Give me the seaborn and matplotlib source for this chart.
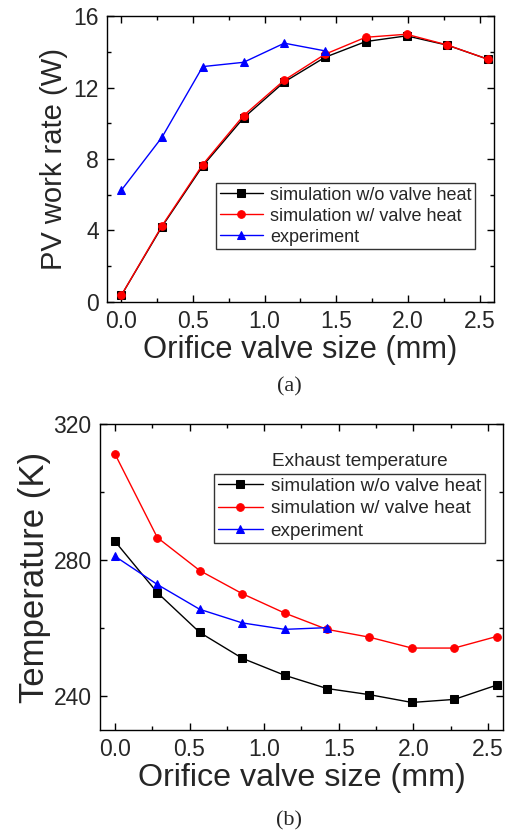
import matplotlib
matplotlib.use("Agg")
import matplotlib.pyplot as plt
import seaborn as sns
import pandas as pd
from matplotlib.ticker import MultipleLocator

sns.set_theme(style="ticks")
plt.rcParams['font.family'] = ['Liberation Sans', 'DejaVu Sans']

# Data
orifice = [0.0, 0.284, 0.568, 0.853, 1.137, 1.421, 1.705, 1.990, 2.274, 2.558]
orifice_exp = orifice[:6]

pv_sim_wo = [0.37, 4.22, 7.61, 10.30, 12.31, 13.69, 14.57, 14.89, 14.37, 13.58]
pv_sim_w = [0.37, 4.27, 7.69, 10.43, 12.41, 13.86, 14.81, 14.98, 14.38, 13.58]
pv_exp = [6.25, 9.22, 13.17, 13.41, 14.48, 14.05]

t_sim_wo = [285.5, 270.4, 258.7, 251.1, 246.1, 242.2, 240.4, 238.1, 239.0, 243.2]
t_sim_w = [311.2, 286.6, 276.9, 270.1, 264.4, 259.6, 257.3, 254.1, 254.1, 257.5]
t_exp = [281.1, 272.8, 265.5, 261.5, 259.6, 260.1]

labels = ["simulation w/o valve heat", "simulation w/ valve heat", "experiment"]
colors = ["black", "red", "blue"]
markers = ["s", "o", "^"]

fig = plt.figure(figsize=(5.08, 8.34), dpi=100)
ax1 = fig.add_axes([0.2106, 0.6379, 0.7618, 0.3429])
ax2 = fig.add_axes([0.1969, 0.1247, 0.7931, 0.3669])


def draw(ax, series):
    for (x, y), lab, c, m in zip(series, labels, colors, markers):
        sns.lineplot(x=x, y=y, ax=ax, color=c, marker=m, markersize=5.5,
                     markeredgecolor=c, linewidth=1.0, label=lab)


def style(ax, xlab_size):
    ax.set_xlim(-0.1, 2.6)
    ax.xaxis.set_major_locator(MultipleLocator(0.5))
    ax.xaxis.set_minor_locator(MultipleLocator(0.25))
    ax.tick_params(which='both', direction='in', top=True, right=True,
                   labeltop=False, labelright=False, width=1.0, color='black')
    ax.tick_params(which='major', length=5, labelsize=16.5, pad=6)
    ax.tick_params(which='minor', length=3)
    for s in ax.spines.values():
        s.set_linewidth(1.0)
        s.set_color('black')
    ax.set_xlabel("Orifice valve size (mm)", fontsize=xlab_size, labelpad=1)


draw(ax1, [(orifice, pv_sim_wo), (orifice, pv_sim_w), (orifice_exp, pv_exp)])
style(ax1, 22.2)
ax1.set_ylim(0, 16)
ax1.yaxis.set_major_locator(MultipleLocator(4))
ax1.yaxis.set_minor_locator(MultipleLocator(2))
ax1.set_ylabel("PV work rate (W)", fontsize=21, labelpad=4)
leg1 = ax1.legend(loc='upper left', bbox_to_anchor=(0.282, 0.416), fontsize=13,
                  frameon=True, fancybox=False, edgecolor='black',
                  handlelength=2.4, handletextpad=0.4, borderpad=0.2,
                  labelspacing=0.22, borderaxespad=0)
leg1.get_frame().set_linewidth(1.0)

draw(ax2, [(orifice, t_sim_wo), (orifice, t_sim_w), (orifice_exp, t_exp)])
style(ax2, 23.2)
ax2.set_ylim(230, 320)
ax2.yaxis.set_major_locator(MultipleLocator(40))
ax2.yaxis.set_minor_locator(MultipleLocator(20))
ax2.set_ylabel("Temperature (K)", fontsize=25, labelpad=2)
leg2 = ax2.legend(loc='upper left', bbox_to_anchor=(0.283, 0.837), fontsize=13.6,
                  frameon=True, fancybox=False, edgecolor='black',
                  handlelength=2.4, handletextpad=0.4, borderpad=0.2,
                  labelspacing=0.27, borderaxespad=0)
leg2.get_frame().set_linewidth(1.0)
ax2.text(0.427, 0.877, "Exhaust temperature", transform=ax2.transAxes,
         fontsize=13.7, ha='left', va='center')

fig.text(289 / 508, 1 - 387 / 834, "(a)", fontsize=16, ha='center', va='center',
         family=['Liberation Serif', 'DejaVu Serif'])
fig.text(289 / 508, 1 - 821 / 834, "(b)", fontsize=16, ha='center', va='center',
         family=['Liberation Serif', 'DejaVu Serif'])

fig.savefig("out.png", dpi=100)
